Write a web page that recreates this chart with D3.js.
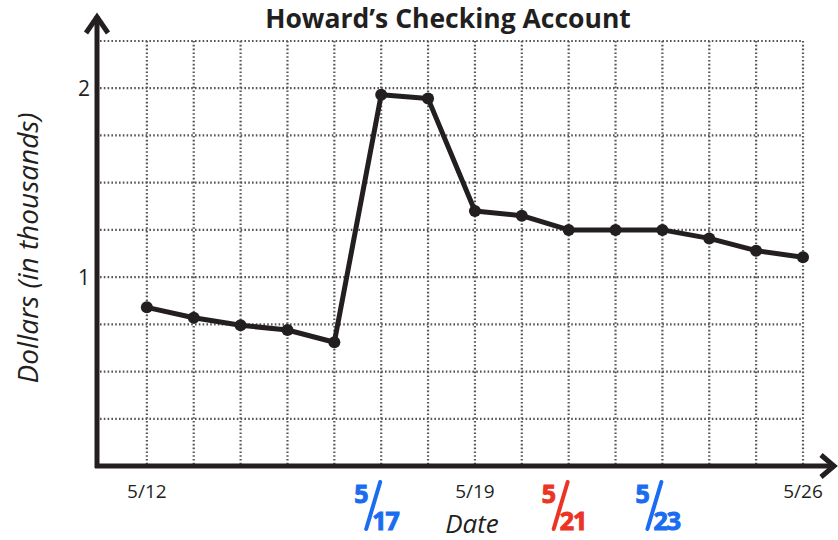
<!DOCTYPE html>
<html>
<head>
<meta charset="utf-8">
<script src="https://cdn.jsdelivr.net/npm/d3@7/dist/d3.min.js"></script>
<style>
  html, body { margin: 0; padding: 0; background: #fff; }
  svg { display: block; font-family: "Open Sans", Lato, sans-serif; }
  .grid line { stroke: #555; stroke-width: 2.2; stroke-dasharray: 1.6 2.2; }
</style>
</head>
<body>
<svg id="chart" width="838" height="540"></svg>
<script>
// dates from 5/12 to 5/26, one point per day
const dates = ['5/12','5/13','5/14','5/15','5/16','5/17','5/18','5/19','5/20','5/21','5/22','5/23','5/24','5/25','5/26'];
const balance = [0.84, 0.785, 0.745, 0.72, 0.655, 1.965, 1.945, 1.35, 1.325, 1.25, 1.25, 1.25, 1.205, 1.14, 1.105];
const xTickDates = ['5/12', '5/19', '5/26'];
const yTicks = [1, 2];
// handwritten notes under the axis
const notes = [
  { date: '5/17', top: '5', bottom: '17', color: '#1a6cf0' },
  { date: '5/21', top: '5', bottom: '21', color: '#ec3424' },
  { date: '5/23', top: '5', bottom: '23', color: '#1a6cf0' },
];

const svg = d3.select('#chart');
const ink = '#231f20';

// index 0 is the axis itself (the day before 5/12)
const x = d3.scaleLinear().domain([0, dates.length]).range([100, 803]);
const y = d3.scaleLinear().domain([0, 2.25]).range([466, 41]);
const xi = d => x(dates.indexOf(d) + 1);

// grid
const grid = svg.append('g').attr('class', 'grid');
grid.selectAll('line.v').data(dates).enter().append('line')
  .attr('x1', d => xi(d)).attr('x2', d => xi(d))
  .attr('y1', y(2.25)).attr('y2', y(0));
grid.selectAll('line.h').data(d3.range(1, 10).map(k => k * 0.25)).enter().append('line')
  .attr('x1', x(0)).attr('x2', x(dates.length))
  .attr('y1', d => y(d)).attr('y2', d => y(d));

// axes with arrow heads
const axes = svg.append('g').attr('stroke', ink).attr('stroke-width', 5).attr('fill', 'none');
axes.append('line').attr('x1', 97).attr('y1', 468).attr('x2', 97).attr('y2', 16);
axes.append('line').attr('x1', 95).attr('y1', 466).attr('x2', 833).attr('y2', 466);
axes.append('polyline').attr('stroke-linejoin', 'miter')
  .attr('points', '86,33 97,17 108,33');
axes.append('polyline').attr('stroke-linejoin', 'miter')
  .attr('points', '821,455 834,466 821,477');

// tick labels
svg.selectAll('text.ytick').data(yTicks).enter().append('text')
  .attr('x', 90).attr('y', d => y(d)).attr('dy', '0.36em')
  .attr('text-anchor', 'end').attr('font-size', 21).attr('fill', ink)
  .text(d => d);
svg.selectAll('text.xtick').data(xTickDates).enter().append('text')
  .attr('x', d => xi(d)).attr('y', 498)
  .attr('text-anchor', 'middle').attr('font-size', 19).attr('fill', ink)
  .text(d => d);

// line and points
const line = d3.line().x((d, i) => x(i + 1)).y(d => y(d));
svg.append('path').datum(balance)
  .attr('d', line).attr('fill', 'none').attr('stroke', ink)
  .attr('stroke-width', 5).attr('stroke-linejoin', 'round');
svg.selectAll('circle.pt').data(balance).enter().append('circle')
  .attr('cx', (d, i) => x(i + 1)).attr('cy', d => y(d)).attr('r', 6).attr('fill', ink);

// titles
svg.append('text').attr('x', 448).attr('y', 28).attr('text-anchor', 'middle')
  .attr('font-size', 26.5).attr('font-weight', 700).attr('fill', ink)
  .text('Howard\u2019s Checking Account');
svg.append('text').attr('x', 472).attr('y', 533).attr('text-anchor', 'middle')
  .attr('font-size', 26).attr('font-style', 'italic').attr('fill', ink)
  .text('Date');
svg.append('text').attr('transform', 'translate(38,248) rotate(-90)')
  .attr('text-anchor', 'middle').attr('font-size', 28).attr('font-style', 'italic').attr('fill', ink)
  .text('Dollars (in thousands)');

// handwritten notes
const ng = svg.selectAll('g.note').data(notes).enter().append('g')
  .attr('transform', d => `translate(${xi(d.date) - 4},0)`)
  .attr('fill', d => d.color).attr('stroke', d => d.color).attr('stroke-width', 1);
ng.append('text').attr('x', -23).attr('y', 503).attr('font-size', 25).attr('font-weight', 700)
  .text(d => d.top);
ng.append('line').attr('x1', 3).attr('y1', 482).attr('x2', -11).attr('y2', 529)
  .attr('stroke-width', 4).attr('stroke-linecap', 'round');
ng.append('text').attr('x', -5).attr('y', 530).attr('font-size', 25).attr('font-weight', 700)
  .attr('letter-spacing', -1).text(d => d.bottom);
</script>
</body>
</html>
